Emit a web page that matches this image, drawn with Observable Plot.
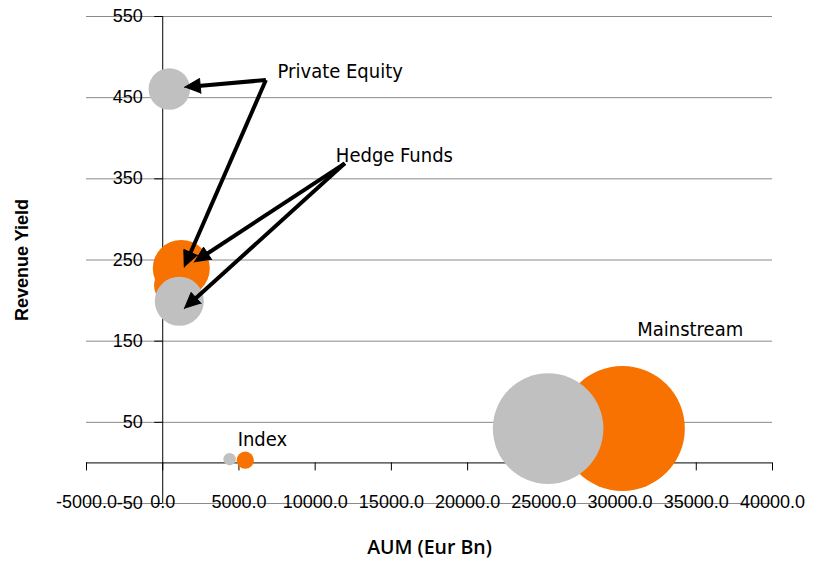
<!DOCTYPE html>
<html>
<head>
<meta charset="utf-8">
<script src="https://cdn.jsdelivr.net/npm/d3@7"></script>
<script src="https://cdn.jsdelivr.net/npm/@observablehq/plot@0.6"></script>
<style>
  html, body { margin: 0; padding: 0; background: #ffffff; }
  #chart svg { display: block; }
</style>
</head>
<body>
<div id="chart"></div>
<script>
// ---------- data ----------
// bubbles, listed in drawing order
const segments     = ["Private Equity", "Private Equity", "Hedge Funds", "Hedge Funds", "Mainstream", "Mainstream", "Index", "Index"];
const series       = ["Series 1", "Series 2", "Series 2", "Series 1", "Series 2", "Series 1", "Series 1", "Series 2"];
const aum          = [433, 675, 1219, 1088, 30150, 25282, 4390, 5413];        // AUM (Eur Bn)
const revenueYield = [460.7, 218.7, 239.6, 199.2, 42.5, 42.3, 4.6, 3.3];     // Revenue Yield
const bubbleSize   = [11.0, 9.2, 20.8, 15.4, 100, 78.3, 1.0, 1.9];            // relative bubble size
const seriesNames  = ["Series 1", "Series 2"];

// annotation labels (data coordinates)
const labelText = ["Private Equity", "Hedge Funds", "Mainstream", "Index"];
const labelX    = [7536, 11357, 31127, 4915];
const labelY    = [473.7, 370.4, 155.9, 20.9];

// annotation arrows (data coordinates)
const arrowFromX = [6770, 6770, 11946, 11946];
const arrowFromY = [471.8, 471.8, 369.1, 369.1];
const arrowToX   = [1415, 1415, 2071, 1415];
const arrowToY   = [462.7, 241.2, 247.3, 190.0];

// axes
const xTicks = [-5000, 0, 5000, 10000, 15000, 20000, 25000, 30000, 35000, 40000];
const yTicks = [-50, 50, 150, 250, 350, 450, 550];
const xTitle = "AUM (Eur Bn)";
const yTitle = "Revenue Yield";

// ---------- build ----------
const bubbles = segments.map((s, i) => ({segment: s, series: series[i], aum: aum[i], yield: revenueYield[i], size: bubbleSize[i]}));
const labels = labelText.map((t, i) => ({text: t, x: labelX[i], y: labelY[i]}));

const base = {
  width: 822,
  height: 562,
  marginLeft: 86,
  marginRight: 50,
  marginTop: 16,
  marginBottom: 59,
  x: {domain: [-5000, 40000], axis: null},
  y: {domain: [-50, 550], axis: null},
  r: {type: "sqrt", domain: [0, 100], range: [0, 62.5]},
  color: {type: "ordinal", domain: seriesNames, range: ["#C0C0C0", "#F77200"]},
  style: {background: "#ffffff", fontFamily: "'Liberation Sans', Arial, sans-serif"}
};

// probe plot to obtain the scales (used to shape arrowheads in screen space)
const probe = Plot.plot({...base, marks: [Plot.frame({stroke: "none"})]});
const sx = probe.scale("x"), sy = probe.scale("y");

const HEAD_LEN = 16, HEAD_HALF = 7.5;
const shafts = [], heads = [];
arrowFromX.forEach((_, i) => {
  const x0 = sx.apply(arrowFromX[i]), y0 = sy.apply(arrowFromY[i]);
  const x1 = sx.apply(arrowToX[i]),   y1 = sy.apply(arrowToY[i]);
  const dx = x1 - x0, dy = y1 - y0, L = Math.hypot(dx, dy);
  const ux = dx / L, uy = dy / L, nx = -uy, ny = ux;
  const bx = x1 - ux * (HEAD_LEN - 2), by = y1 - uy * (HEAD_LEN - 2);
  shafts.push({x1: arrowFromX[i], y1: arrowFromY[i], x2: sx.invert(bx), y2: sy.invert(by)});
  const cx = x1 - ux * HEAD_LEN, cy = y1 - uy * HEAD_LEN;
  [[x1, y1], [cx + nx * HEAD_HALF, cy + ny * HEAD_HALF], [cx - nx * HEAD_HALF, cy - ny * HEAD_HALF]]
    .forEach(([px, py]) => heads.push({id: i, x: sx.invert(px), y: sy.invert(py)}));
});

const tickFont = {fontFamily: "'Liberation Sans', Arial, sans-serif", fontSize: 18, fill: "#000"};
const annFont = {fontFamily: "'DejaVu Sans Condensed', 'DejaVu Sans', sans-serif", fontSize: 20, fill: "#000"};

const chart = Plot.plot({
  ...base,
  marks: [
    // gridlines
    Plot.ruleY(yTicks, {y: d => d, stroke: "#8a8a8a", strokeWidth: 1}),
    // axis lines
    Plot.ruleX([0], {y1: -50, y2: 550, stroke: "#000", strokeWidth: 1}),
    Plot.ruleY([0], {x1: -5000, x2: 40000, stroke: "#000", strokeWidth: 1}),
    // tick marks
    Plot.ruleX(xTicks, {x: d => d, y1: 0, y2: 0, insetBottom: -8, stroke: "#000", strokeWidth: 1}),
    Plot.ruleY(yTicks, {y: d => d, x1: 0, x2: 0, insetLeft: -8, stroke: "#000", strokeWidth: 1}),
    // bubbles
    Plot.dot(bubbles, {x: "aum", y: "yield", r: "size", fill: "series", stroke: "none", sort: null}),
    // tick labels
    Plot.text(xTicks, {x: d => d, y: -50, text: d => d.toFixed(1), lineAnchor: "bottom", dy: 4, ...tickFont}),
    Plot.text(yTicks, {x: 0, y: d => d, text: d => String(d), textAnchor: "end", lineAnchor: "bottom", dx: -20, dy: 5.5, ...tickFont}),
    // axis titles
    Plot.text([xTitle], {frameAnchor: "bottom", textAnchor: "middle", lineAnchor: "middle", dy: 44, fontFamily: "'Open Sans', sans-serif", fontWeight: 600, fontSize: 19.5, fill: "#000"}),
    Plot.text([yTitle], {frameAnchor: "left", textAnchor: "middle", rotate: -90, lineAnchor: "middle", dx: -64, fontFamily: "'Liberation Sans', Arial, sans-serif", fontWeight: "bold", fontSize: 18, fill: "#000"}),
    // annotations
    Plot.link(shafts, {x1: "x1", y1: "y1", x2: "x2", y2: "y2", stroke: "#000", strokeWidth: 4, strokeLinecap: "butt"}),
    Plot.line(heads, {x: "x", y: "y", z: "id", fill: "#000", stroke: "#000", strokeWidth: 1, strokeLinejoin: "miter"}),
    Plot.text(labels, {x: "x", y: "y", text: "text", textAnchor: "start", lineAnchor: "bottom", ...annFont})
  ]
});

document.getElementById("chart").appendChild(chart);
</script>
</body>
</html>
